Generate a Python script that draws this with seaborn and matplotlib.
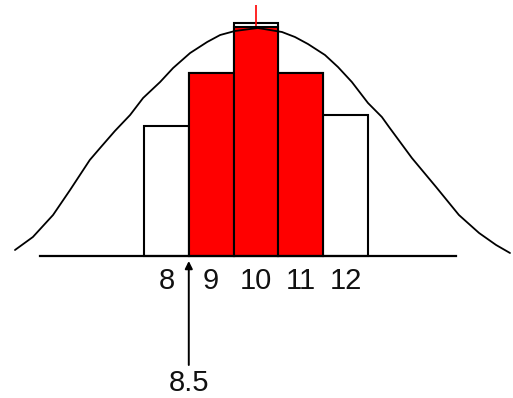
import matplotlib
matplotlib.use("Agg")
import matplotlib.pyplot as plt
import seaborn as sns
import pandas as pd

# Histogram of outcomes (outlined bars) and the highlighted range 9..11
outcomes = [8, 9, 10, 11, 12]
outcome_heights = [13.0, 18.3, 23.3, 18.3, 14.1]
highlight_outcomes = [9, 10, 11]
highlight_heights = [18.3, 22.9, 18.3]

# Approximating bell curve, traced as (x, height) pairs
curve_x = [4.62, 5.02, 5.47, 5.85, 6.29, 6.52, 6.85, 7.19, 7.48, 7.86, 8.15,
           8.53, 8.91, 9.20, 9.53, 10.04, 10.58, 10.87, 11.16, 11.54, 11.83,
           12.14, 12.50, 12.81, 12.97, 13.48, 14.02, 14.53, 14.98, 15.36, 15.67]
curve_y = [0.6, 1.9, 4.1, 6.6, 9.6, 10.8, 12.5, 14.1, 15.8, 17.4, 18.8,
           20.3, 21.4, 22.1, 22.5, 22.8, 22.4, 21.9, 21.2, 20.1, 18.9,
           17.4, 15.3, 13.9, 12.9, 9.8, 6.9, 4.1, 2.3, 1.1, 0.3]

tick_labels = ["8", "9", "10", "11", "12"]
mean_value = 10
mean_marker_top = 25.1
boundary_value = 8.5
boundary_label = "8.5"

sns.set_style("white")
plt.rcParams["font.family"] = ["Liberation Sans Narrow", "Liberation Sans",
                               "DejaVu Sans"]

fig = plt.figure(figsize=(5.13, 3.98), dpi=100)
ax = fig.add_axes([0, 0, 1, 1])

bars = pd.DataFrame({"x": outcomes, "h": outcome_heights})
hi = pd.DataFrame({"x": highlight_outcomes, "h": highlight_heights})

sns.barplot(data=bars, x="x", y="h", native_scale=True, width=1,
            color="white", saturation=1, edgecolor="black", linewidth=1.5,
            errorbar=None, ax=ax, zorder=1)

# mean marker runs behind the highlighted bars and pokes out on top
ax.plot([mean_value, mean_value], [0, mean_marker_top], color="#ff0000",
        lw=1.2, zorder=2, solid_capstyle="butt")

sns.barplot(data=hi, x="x", y="h", native_scale=True, width=1,
            color="#ff0000", saturation=1, edgecolor="black", linewidth=1.5,
            errorbar=None, ax=ax, zorder=3)

sns.lineplot(x=curve_x, y=curve_y, color="black", lw=1.3, ax=ax,
             sort=False, zorder=4)

ax.set_xlim(4.286, 15.737)
ax.set_ylim(-14.2, 25.6)

for side in ["top", "right", "left"]:
    ax.spines[side].set_visible(False)
ax.spines["bottom"].set_position(("data", 0))
ax.spines["bottom"].set_bounds(5.18, 14.46)
ax.spines["bottom"].set_linewidth(1.6)
ax.spines["bottom"].set_color("black")
ax.spines["bottom"].set_zorder(5)

ax.set_xticks(outcomes)
ax.set_xticklabels(tick_labels, fontsize=21, color="#111111")
ax.tick_params(axis="x", length=0, pad=8)
ax.set_yticks([])
ax.set_xlabel("")
ax.set_ylabel("")

ax.annotate("", xy=(boundary_value, -0.5), xytext=(boundary_value, -10.9),
            arrowprops=dict(arrowstyle="-|>", color="black", lw=1.4,
                            mutation_scale=11, shrinkA=0, shrinkB=0))
ax.text(boundary_value, -12.7, boundary_label, ha="center", va="center",
        fontsize=21, color="#111111")

fig.savefig("out.png", dpi=100)
